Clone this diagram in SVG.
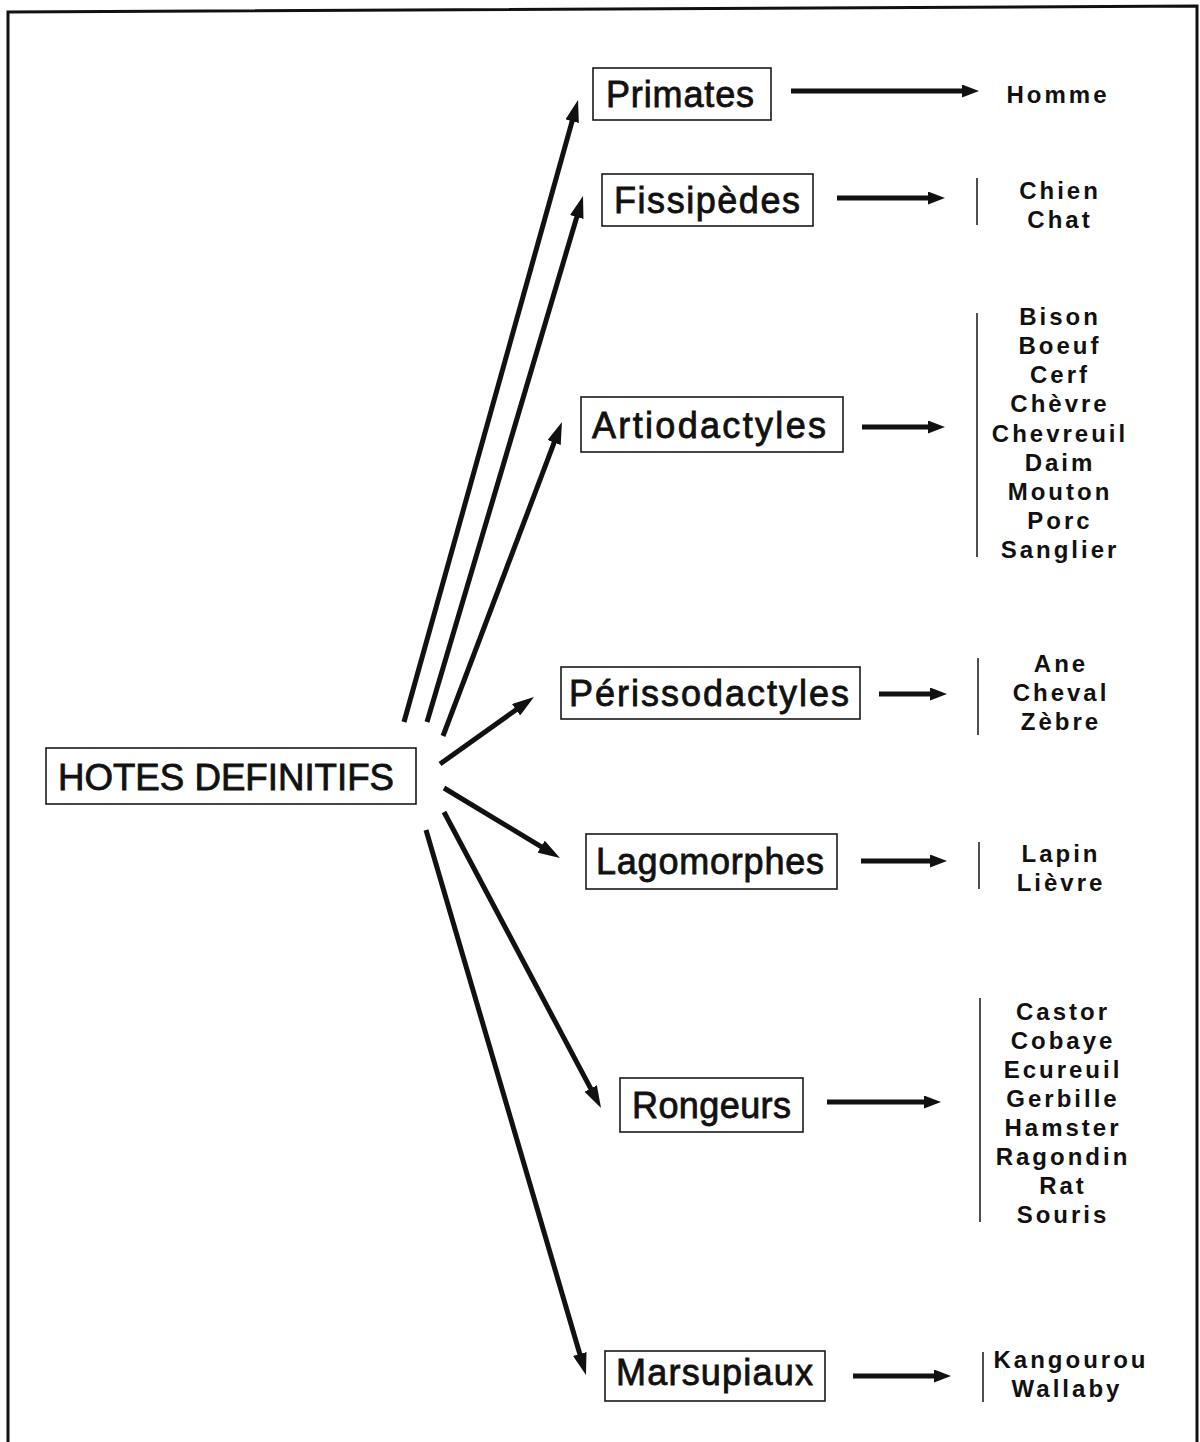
<svg xmlns="http://www.w3.org/2000/svg" width="1200" height="1442" viewBox="0 0 1200 1442">
<defs>
<style>
.box{fill:#fff;stroke:#1a1a1a;stroke-width:1.6}
.lbl{font-family:"Liberation Sans",Arial,sans-serif;font-size:36px;fill:#111;stroke:#111;stroke-width:0.8}
.lst{font-family:"Liberation Sans",Arial,sans-serif;font-size:24px;font-weight:bold;letter-spacing:3px;fill:#111;text-anchor:middle}
.con{stroke:#111;stroke-width:5;fill:none}
.bar{stroke:#222;stroke-width:1.6}
</style>
<marker id="ah" markerWidth="22" markerHeight="14" refX="10" refY="7" orient="auto" markerUnits="userSpaceOnUse"><path d="M0,0 L22,7 L0,14 z" fill="#111"/></marker>
<marker id="hh" markerWidth="17" markerHeight="13" refX="8" refY="6.5" orient="auto" markerUnits="userSpaceOnUse"><path d="M0,0 L17,6.5 L0,13 z" fill="#111"/></marker>
</defs>
<rect width="1200" height="1442" fill="#fff"/>
<path d="M8,1442 L8,12 L1197,6 L1197,1442" fill="none" stroke="#111" stroke-width="3"/>

<g id="connectors">
<line class="con" x1="404" y1="722" x2="574.8" y2="111.6" marker-end="url(#ah)"/>
<line class="con" x1="427" y1="722" x2="579.6" y2="207.5" marker-end="url(#ah)"/>
<line class="con" x1="443" y1="736" x2="557.7" y2="433.2" marker-end="url(#ah)"/>
<line class="con" x1="440" y1="764" x2="524.2" y2="704" marker-end="url(#ah)"/>
<line class="con" x1="444" y1="788" x2="549.7" y2="851.8" marker-end="url(#ah)"/>
<line class="con" x1="444" y1="812" x2="595.4" y2="1097.4" marker-end="url(#ah)"/>
<line class="con" x1="426" y1="830" x2="582.6" y2="1363.5" marker-end="url(#ah)"/>
<line class="con" x1="791" y1="91" x2="970" y2="91" marker-end="url(#hh)"/>
<line class="con" x1="837" y1="198" x2="936" y2="198" marker-end="url(#hh)"/>
<line class="con" x1="862" y1="427" x2="936" y2="427" marker-end="url(#hh)"/>
<line class="con" x1="879" y1="694" x2="938" y2="694" marker-end="url(#hh)"/>
<line class="con" x1="861" y1="861" x2="938" y2="861" marker-end="url(#hh)"/>
<line class="con" x1="827" y1="1102" x2="932" y2="1102" marker-end="url(#hh)"/>
<line class="con" x1="853" y1="1376" x2="942" y2="1376" marker-end="url(#hh)"/>
</g>

<g id="hotes">
<rect class="box" x="46" y="748" width="370" height="56"/>
<text class="lbl" x="58" y="790" font-size="38" textLength="336" lengthAdjust="spacingAndGlyphs">HOTES DEFINITIFS</text>
</g>

<g id="primates">
<rect class="box" x="593" y="68" width="178" height="52"/>
<text class="lbl" x="606" y="107" textLength="148">Primates</text>
</g>
<g id="homme">
<text class="lst" x="1058" y="103">Homme</text>
</g>

<g id="fissipedes">
<rect class="box" x="602" y="174" width="211" height="52"/>
<text class="lbl" x="614" y="213" textLength="186">Fissipèdes</text>
</g>
<g id="fissipedes-list">
<line class="bar" x1="977" y1="178" x2="977" y2="225"/>
<text class="lst" x="1060" y="199">Chien</text>
<text class="lst" x="1060" y="228">Chat</text>
</g>

<g id="artiodactyles">
<rect class="box" x="581" y="397" width="262" height="55"/>
<text class="lbl" x="592" y="438" textLength="234">Artiodactyles</text>
</g>
<g id="artiodactyles-list">
<line class="bar" x1="977" y1="313" x2="977" y2="557"/>
<text class="lst" x="1060" y="325">Bison</text>
<text class="lst" x="1060" y="354">Boeuf</text>
<text class="lst" x="1060" y="383">Cerf</text>
<text class="lst" x="1060" y="412">Chèvre</text>
<text class="lst" x="1060" y="442">Chevreuil</text>
<text class="lst" x="1060" y="471">Daim</text>
<text class="lst" x="1060" y="500">Mouton</text>
<text class="lst" x="1060" y="529">Porc</text>
<text class="lst" x="1060" y="558">Sanglier</text>
</g>

<g id="perissodactyles">
<rect class="box" x="561" y="667" width="299" height="52"/>
<text class="lbl" x="569" y="706" textLength="280">Périssodactyles</text>
</g>
<g id="perissodactyles-list">
<line class="bar" x1="978" y1="658" x2="978" y2="735"/>
<text class="lst" x="1061" y="672">Ane</text>
<text class="lst" x="1061" y="701">Cheval</text>
<text class="lst" x="1061" y="730">Zèbre</text>
</g>

<g id="lagomorphes">
<rect class="box" x="586" y="834" width="251" height="55"/>
<text class="lbl" x="596" y="874" textLength="228">Lagomorphes</text>
</g>
<g id="lagomorphes-list">
<line class="bar" x1="979" y1="842" x2="979" y2="889"/>
<text class="lst" x="1061" y="862">Lapin</text>
<text class="lst" x="1061" y="891">Lièvre</text>
</g>

<g id="rongeurs">
<rect class="box" x="620" y="1078" width="183" height="54"/>
<text class="lbl" x="632" y="1118" textLength="159">Rongeurs</text>
</g>
<g id="rongeurs-list">
<line class="bar" x1="980" y1="998" x2="980" y2="1222"/>
<text class="lst" x="1063" y="1020">Castor</text>
<text class="lst" x="1063" y="1049">Cobaye</text>
<text class="lst" x="1063" y="1078">Ecureuil</text>
<text class="lst" x="1063" y="1107">Gerbille</text>
<text class="lst" x="1063" y="1136">Hamster</text>
<text class="lst" x="1063" y="1165">Ragondin</text>
<text class="lst" x="1063" y="1194">Rat</text>
<text class="lst" x="1063" y="1223">Souris</text>
</g>

<g id="marsupiaux">
<rect class="box" x="605" y="1351" width="220" height="50"/>
<text class="lbl" x="616" y="1385" textLength="197">Marsupiaux</text>
</g>
<g id="marsupiaux-list">
<line class="bar" x1="983" y1="1352" x2="983" y2="1402"/>
<text class="lst" x="1071" y="1368">Kangourou</text>
<text class="lst" x="1067" y="1397">Wallaby</text>
</g>
</svg>
